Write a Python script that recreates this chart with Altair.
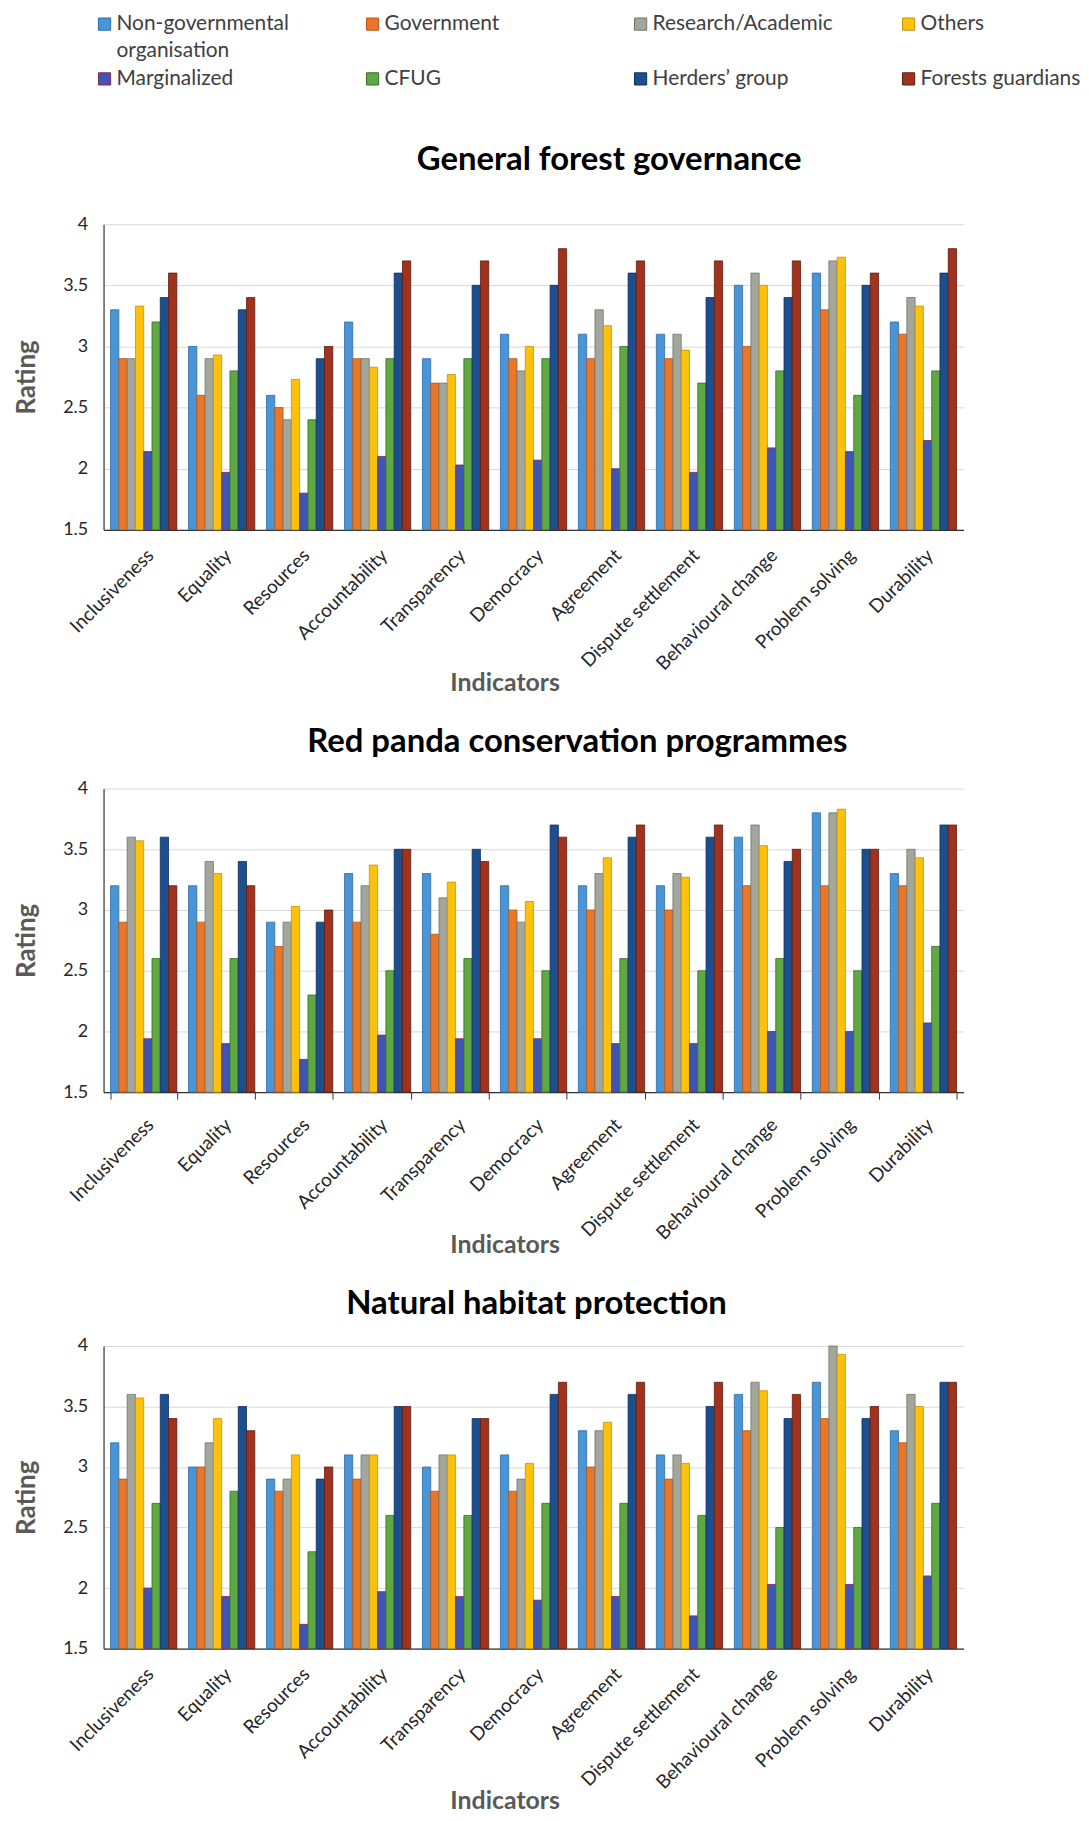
import altair as alt
import pandas as pd

indicators = ["Inclusiveness", "Equality", "Resources", "Accountability", "Transparency",
              "Democracy", "Agreement", "Dispute settlement", "Behavioural change",
              "Problem solving", "Durability"]
groups = ["Non-governmental organisation", "Government", "Research/Academic", "Others",
          "Marginalized", "CFUG", "Herders\u2019 group", "Forests guardians"]
legend_lines = ["Non-governmental", "Government", "Research/Academic", "Others",
                "Marginalized", "CFUG", "Herders\u2019 group", "Forests guardians", "organisation"]
legend_cols = [0, 1, 2, 3, 0, 1, 2, 3, 0]
legend_rows = [0, 0, 0, 0, 1, 1, 1, 1, 0.5]
fill_colors = ["#4a95d6", "#e8772a", "#a3a69c", "#fbc10c", "#3f55b3", "#5fa843", "#1d4f8e", "#a0321e"]
stroke_colors = ["#2d6aa8", "#b0561a", "#6f7568", "#c4930a", "#8a2452", "#356e26", "#0f2f5c", "#5e1a0e"]

# General forest governance
gfg_ngo = [3.3, 3.0, 2.6, 3.2, 2.9, 3.1, 3.1, 3.1, 3.5, 3.6, 3.2]
gfg_gov = [2.9, 2.6, 2.5, 2.9, 2.7, 2.9, 2.9, 2.9, 3.0, 3.3, 3.1]
gfg_res = [2.9, 2.9, 2.4, 2.9, 2.7, 2.8, 3.3, 3.1, 3.6, 3.7, 3.4]
gfg_oth = [3.33, 2.93, 2.73, 2.83, 2.77, 3.0, 3.17, 2.97, 3.5, 3.73, 3.33]
gfg_mar = [2.14, 1.97, 1.8, 2.1, 2.03, 2.07, 2.0, 1.97, 2.17, 2.14, 2.23]
gfg_cfu = [3.2, 2.8, 2.4, 2.9, 2.9, 2.9, 3.0, 2.7, 2.8, 2.6, 2.8]
gfg_her = [3.4, 3.3, 2.9, 3.6, 3.5, 3.5, 3.6, 3.4, 3.4, 3.5, 3.6]
gfg_fgu = [3.6, 3.4, 3.0, 3.7, 3.7, 3.8, 3.7, 3.7, 3.7, 3.6, 3.8]

# Red panda conservation programmes
rpc_ngo = [3.2, 3.2, 2.9, 3.3, 3.3, 3.2, 3.2, 3.2, 3.6, 3.8, 3.3]
rpc_gov = [2.9, 2.9, 2.7, 2.9, 2.8, 3.0, 3.0, 3.0, 3.2, 3.2, 3.2]
rpc_res = [3.6, 3.4, 2.9, 3.2, 3.1, 2.9, 3.3, 3.3, 3.7, 3.8, 3.5]
rpc_oth = [3.57, 3.3, 3.03, 3.37, 3.23, 3.07, 3.43, 3.27, 3.53, 3.83, 3.43]
rpc_mar = [1.94, 1.9, 1.77, 1.97, 1.94, 1.94, 1.9, 1.9, 2.0, 2.0, 2.07]
rpc_cfu = [2.6, 2.6, 2.3, 2.5, 2.6, 2.5, 2.6, 2.5, 2.6, 2.5, 2.7]
rpc_her = [3.6, 3.4, 2.9, 3.5, 3.5, 3.7, 3.6, 3.6, 3.4, 3.5, 3.7]
rpc_fgu = [3.2, 3.2, 3.0, 3.5, 3.4, 3.6, 3.7, 3.7, 3.5, 3.5, 3.7]

# Natural habitat protection
nhp_ngo = [3.2, 3.0, 2.9, 3.1, 3.0, 3.1, 3.3, 3.1, 3.6, 3.7, 3.3]
nhp_gov = [2.9, 3.0, 2.8, 2.9, 2.8, 2.8, 3.0, 2.9, 3.3, 3.4, 3.2]
nhp_res = [3.6, 3.2, 2.9, 3.1, 3.1, 2.9, 3.3, 3.1, 3.7, 4.0, 3.6]
nhp_oth = [3.57, 3.4, 3.1, 3.1, 3.1, 3.03, 3.37, 3.03, 3.63, 3.93, 3.5]
nhp_mar = [2.0, 1.93, 1.7, 1.97, 1.93, 1.9, 1.93, 1.77, 2.03, 2.03, 2.1]
nhp_cfu = [2.7, 2.8, 2.3, 2.6, 2.6, 2.7, 2.7, 2.6, 2.5, 2.5, 2.7]
nhp_her = [3.6, 3.5, 2.9, 3.5, 3.4, 3.6, 3.6, 3.5, 3.4, 3.4, 3.7]
nhp_fgu = [3.4, 3.3, 3.0, 3.5, 3.4, 3.7, 3.7, 3.7, 3.6, 3.5, 3.7]

y_ticks = [1.5, 2, 2.5, 3, 3.5, 4]
FONT = "Lato"
NO_BORDER = alt.ViewBackground(strokeWidth=0, stroke="transparent")


def panel(title_text, title_dx, title_offset, plot_height, series, show_ticks):
    rows = []
    for g, vals in zip(groups, series):
        for ind, v in zip(indicators, vals):
            rows.append({"Indicator": ind, "Group": g, "Rating": v})
    df = pd.DataFrame(rows)
    x_axis = alt.Axis(
        title="Indicators", labelAngle=-45, labelFontSize=19, labelPadding=16,
        labelColor="#262626", labelFont=FONT, titleFont=FONT, titleFontSize=25,
        titleFontWeight="bold", titleColor="#595959", titleY=153, titleBaseline="middle",
        titleX=403, titleAnchor="middle", domainColor="#333333", domainWidth=1.2,
        ticks=show_ticks, tickColor="#333333", tickSize=7, tickBand="extent",
        bandPosition=0, tickExtra=show_ticks, grid=False,
    )
    y_axis = alt.Axis(
        title="Rating", values=y_ticks, format="~g", labelFontSize=18, labelPadding=16,
        labelColor="#262626", labelFont=FONT, titleFont=FONT, titleFontSize=26,
        titleFontWeight="bold", titleColor="#595959", titlePadding=23, ticks=False,
        domainColor="#333333", domainWidth=1.2, gridColor="#d9d9d9", gridWidth=1,
    )
    return alt.Chart(df).mark_bar(strokeWidth=0.8).encode(
        x=alt.X("Indicator:N", sort=indicators,
                scale=alt.Scale(paddingInner=0.15, paddingOuter=0.09), axis=x_axis),
        xOffset=alt.XOffset("Group:N", sort=groups,
                            scale=alt.Scale(paddingInner=0, paddingOuter=0)),
        y=alt.Y("Rating:Q", scale=alt.Scale(domain=[1.5, 4], nice=False, zero=False), axis=y_axis),
        y2=alt.datum(1.5),
        color=alt.Color("Group:N", sort=groups,
                        scale=alt.Scale(domain=groups, range=fill_colors), legend=None),
        stroke=alt.Stroke("Group:N", sort=groups,
                          scale=alt.Scale(domain=groups, range=stroke_colors), legend=None),
    ).properties(
        width=864, height=plot_height, view=NO_BORDER,
        title=alt.TitleParams(title_text, dx=title_dx, anchor="middle", fontSize=33,
                              font=FONT, fontWeight="bold", color="#000000",
                              offset=title_offset),
    )


sq_df = pd.DataFrame({
    "Group": groups,
    "col": legend_cols[:8],
    "row": legend_rows[:8],
})
tx_df = pd.DataFrame({
    "label": legend_lines,
    "col": legend_cols,
    "row": legend_rows,
})
leg_x = alt.X("col:Q", scale=alt.Scale(domain=[-0.0037, 3.205], nice=False, zero=False), axis=None)
leg_y = alt.Y("row:Q", scale=alt.Scale(domain=[-0.145, 1.636], nice=False, zero=False, reverse=True),
              axis=None)
leg_sq = alt.Chart(sq_df).mark_square(size=150, strokeWidth=1, opacity=1).encode(
    x=leg_x, y=leg_y,
    color=alt.Color("Group:N", scale=alt.Scale(domain=groups, range=fill_colors), legend=None),
    stroke=alt.Stroke("Group:N", scale=alt.Scale(domain=groups, range=stroke_colors), legend=None),
)
leg_tx = alt.Chart(tx_df).mark_text(
    align="left", baseline="middle", dx=12, fontSize=21, font=FONT, color="#404040",
).encode(x=leg_x, y=leg_y, text="label:N")
legend = alt.layer(leg_sq, leg_tx).properties(width=864, height=98, view=NO_BORDER)

p1 = panel("General forest governance", 76, 38, 307,
           [gfg_ngo, gfg_gov, gfg_res, gfg_oth, gfg_mar, gfg_cfu, gfg_her, gfg_fgu], False)
p2 = panel("Red panda conservation programmes", 44, 21, 305,
           [rpc_ngo, rpc_gov, rpc_res, rpc_oth, rpc_mar, rpc_cfu, rpc_her, rpc_fgu], True)
p3 = panel("Natural habitat protection", 3, 16, 304,
           [nhp_ngo, nhp_gov, nhp_res, nhp_oth, nhp_mar, nhp_cfu, nhp_her, nhp_fgu], False)

chart = alt.vconcat(
    legend, p1, p2, p3, spacing=31,
    padding={"left": 5, "top": 0, "right": 0, "bottom": 0},
).configure_view(strokeWidth=0, stroke="transparent").configure(background="white")

chart.save("out.html", embed_options={"renderer": "svg", "actions": False})
